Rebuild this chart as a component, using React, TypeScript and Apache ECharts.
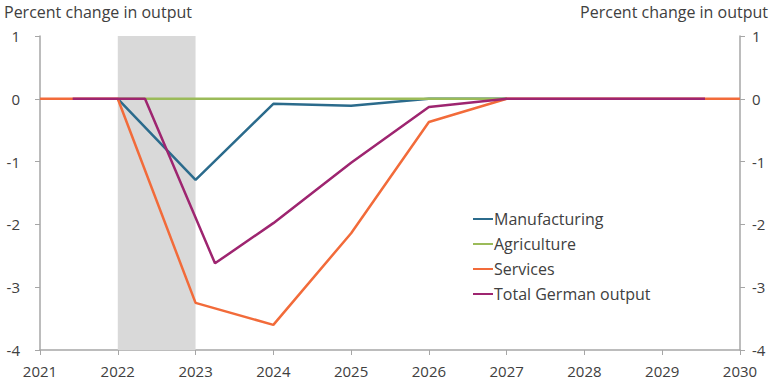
import React, { useEffect, useRef } from "react";
import * as echarts from "echarts";

const xTicks = [2021, 2022, 2023, 2024, 2025, 2026, 2027, 2028, 2029, 2030];
const yTicks = [-4, -3, -2, -1, 0, 1];
const axisTitle = "Percent change in output";
const shadedPeriod = [2022, 2023];

const manufacturingX = [2022, 2023, 2024, 2025, 2026, 2027];
const manufacturingY = [0, -1.29, -0.08, -0.11, 0, 0];

const agricultureX = [2022, 2023, 2024, 2025, 2026, 2027];
const agricultureY = [0, 0, 0, 0, 0, 0];

const servicesX = [2021, 2022, 2023, 2024, 2025, 2026, 2027, 2028, 2029, 2030];
const servicesY = [0, 0, -3.25, -3.6, -2.14, -0.37, 0, 0, 0, 0];

const totalX = [2021.42, 2022.35, 2023.25, 2024, 2025, 2026, 2027, 2028, 2029, 2029.55];
const totalY = [0, 0, -2.62, -1.98, -1.02, -0.13, 0, 0, 0, 0];

const seriesNames = ["Manufacturing", "Agriculture", "Services", "Total German output"];
const colors = ["#2b6b8c", "#9bbb59", "#f26b3a", "#9e2570"];

const zip = (xs: number[], ys: number[]) => xs.map((x, i) => [x, ys[i]]);

export default function App() {
  const ref = useRef<HTMLDivElement>(null);
  useEffect(() => {
    if (!ref.current) return;
    const chart = echarts.init(ref.current, undefined, { renderer: "svg" });
    const font = "'Open Sans', sans-serif";
    const textColor = "#404040";
    const fs = 15;
    const fsBig = 16;
    const axisLine = { show: true, lineStyle: { color: "#a6a6a6", width: 1.5 } };
    const yAxisCommon = {
      type: "value" as const,
      min: yTicks[0],
      max: yTicks[yTicks.length - 1],
      interval: 1,
      splitLine: { show: false },
      axisLine,
      axisTick: { show: true, inside: false, length: 5, lineStyle: { color: "#a6a6a6" } },
      axisLabel: { color: textColor, fontSize: fs, fontFamily: font, margin: 20 },
    };
    const datasets = [
      zip(manufacturingX, manufacturingY),
      zip(agricultureX, agricultureY),
      zip(servicesX, servicesY),
      zip(totalX, totalY),
    ];
    chart.setOption({
      animation: false,
      color: colors,
      grid: { left: 40, right: 33, top: 36, bottom: 38, containLabel: false },
      xAxis: {
        type: "value",
        min: xTicks[0],
        max: xTicks[xTicks.length - 1],
        interval: 1,
        splitLine: { show: false },
        axisLine: { ...axisLine, onZero: false },
        axisTick: { show: true, length: 5, lineStyle: { color: "#a6a6a6" } },
        axisLabel: {
          color: textColor,
          fontSize: fs,
          fontFamily: font,
          margin: 13,
          formatter: (v: number) => String(v),
        },
      },
      yAxis: [
        { ...yAxisCommon, position: "left" },
        { ...yAxisCommon, position: "right", axisLabel: { ...yAxisCommon.axisLabel, margin: 12 } },
      ],
      legend: {
        orient: "vertical",
        left: 468,
        top: 206,
        icon: "rect",
        itemWidth: 20,
        itemHeight: 2,
        itemGap: 9,
        data: seriesNames,
        textStyle: { color: textColor, fontSize: fsBig, fontFamily: font, padding: [0, 0, 0, -4], lineHeight: 16 },
      },
      graphic: [
        {
          type: "text",
          left: 4,
          top: 4,
          style: { text: axisTitle, fill: textColor, font: `${fsBig}px ${font}` },
        },
        {
          type: "text",
          right: 5,
          top: 4,
          style: { text: axisTitle, fill: textColor, font: `${fsBig}px ${font}` },
        },
      ],
      series: seriesNames.map((name, i) => ({
        name,
        type: "line",
        data: datasets[i],
        symbol: "none",
        lineStyle: { width: 2.5, color: colors[i] },
        itemStyle: { color: colors[i] },
        z: 2 + i,
        ...(i === 0
          ? {
              markArea: {
                silent: true,
                itemStyle: { color: "#d9d9d9" },
                data: [[{ xAxis: shadedPeriod[0] }, { xAxis: shadedPeriod[1] }]],
              },
            }
          : {}),
      })),
    });
    return () => chart.dispose();
  }, []);
  return <div ref={ref} style={{ width: 773, height: 388, position: "absolute", left: 0, top: 0 }} />;
}
